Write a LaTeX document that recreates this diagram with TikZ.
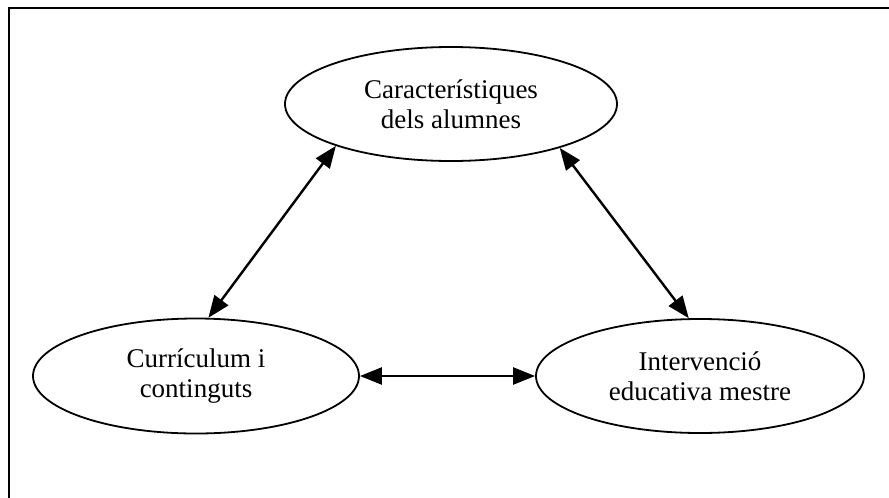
\documentclass[tikz,border=0pt]{standalone}
\usepackage{fontspec}
\setmainfont{Liberation Serif}
\usetikzlibrary{shapes.geometric,arrows.meta}
\begin{document}
\begin{tikzpicture}[x=1pt,y=1pt,
  bubble/.style={draw, ellipse, line width=1.8pt, inner sep=0pt, align=center,
    font=\fontsize{27}{30}\selectfont},
  link/.style={line width=2.4pt, {Triangle[length=22pt,width=17pt]}-{Triangle[length=22pt,width=17pt]}}]
  \useasboundingbox (0,0) rectangle (889,-498);
  % frame (top and left edges)
  \draw[line width=2.4pt] (889,-8) -- (9,-8) -- (9,-498);
  % nodes
  \node[bubble, minimum width=332pt, minimum height=114pt] (alum) at (451,-104) {Característiques\\dels alumnes};
  \node[bubble, minimum width=326pt, minimum height=115pt] (curr) at (196,-376) {Currículum i\\continguts};
  \node[bubble, minimum width=328pt, minimum height=114pt] (mest) at (700,-376) {Intervenció\\educativa mestre};
  % connectors
  \draw[link] (alum.200.3) -- (curr.78.7);
  \draw[link] (alum.338.9) -- (mest.101.8);
  \draw[link] (curr.east) -- (mest.west);
\end{tikzpicture}
\end{document}
